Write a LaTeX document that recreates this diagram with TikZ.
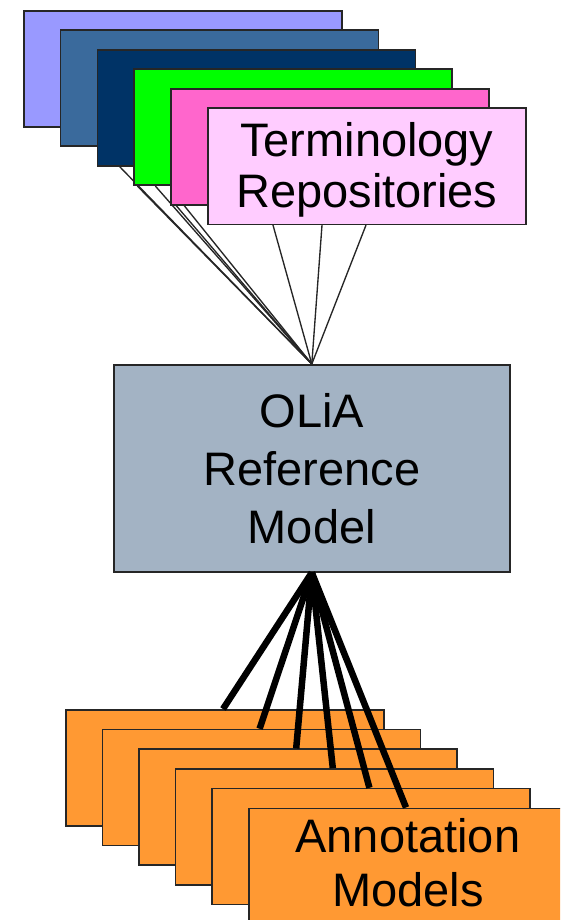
\documentclass[tikz,border=0pt]{standalone}
\usepackage{fontspec}
\setmainfont{Liberation Sans}
\pgfdeclarelayer{bg}
\pgfsetlayers{bg,main}
\definecolor{cA}{HTML}{9999FF}
\definecolor{cB}{HTML}{3A6A9C}
\definecolor{cC}{HTML}{003366}
\definecolor{cD}{HTML}{00FF00}
\definecolor{cE}{HTML}{FF66CC}
\definecolor{cF}{HTML}{FFCCFF}
\definecolor{oliafill}{HTML}{A3B3C4}
\definecolor{orng}{HTML}{FF9933}
\begin{document}
\begin{tikzpicture}[x=1pt,y=-1pt,
  box/.style={draw=black!85, line width=1.6pt, anchor=north west,
    minimum width=318pt, minimum height=116pt, inner sep=0pt,
    align=center, font=\fontsize{47}{51}\selectfont},
  fineline/.style={draw=black!85, line width=1.35pt},
  heavyline/.style={draw=black, line width=6.5pt}]
\useasboundingbox (0,0) rectangle (560,920);
\clip (0,0) rectangle (560,920);

% terminology repositories
\node[box, fill=cA] (t1) at (23,10) {};
\node[box, fill=cB] (t2) at (59.8,29.5) {};
\node[box, fill=cC] (t3) at (96.6,49) {};
\node[box, fill=cD] (t4) at (133.4,68.5) {};
\node[box, fill=cE] (t5) at (170.2,88) {};
\node[box, fill=cF] (t6) at (207,107.5) {\rule{0pt}{41pt}Terminology\\Repositories};

% reference model
\node[draw=black!85, line width=1.6pt, fill=oliafill, anchor=north west,
  minimum width=396pt, minimum height=207pt, inner sep=0pt, align=center,
  font=\fontsize{47}{58}\selectfont] (olia) at (113,364) {OLiA\\Reference\\Model};

% annotation models
\node[box, fill=orng] (b1) at (65,709) {};
\node[box, fill=orng] (b2) at (101.6,728.7) {};
\node[box, fill=orng] (b3) at (138.2,748.4) {};
\node[box, fill=orng] (b4) at (174.8,768.1) {};
\node[box, fill=orng] (b5) at (211.4,787.8) {};
\node[box, fill=orng, font=\fontsize{47}{53.5}\selectfont] (b6) at (248,807.5) {Annotation\\Models\rule[-8pt]{0pt}{0pt}};

% thin connectors to the repositories (behind the boxes)
\begin{pgfonlayer}{bg}
\draw[fineline] (olia.north) -- ([xshift=23pt]t3.south west);
\draw[fineline] (olia.north) -- ([xshift=4pt]t4.south west);
\draw[fineline] (olia.north) -- ([xshift=22pt]t4.south west);
\draw[fineline] (olia.north) -- ([xshift=6pt]t5.south west);
\draw[fineline] (olia.north) -- ([xshift=14pt]t5.south west);
\draw[fineline] (olia.north) -- ([xshift=66pt]t6.south west);
\draw[fineline] (olia.north) -- ([xshift=115pt]t6.south west);
\draw[fineline] (olia.north) -- ([xshift=159pt]t6.south west);
\end{pgfonlayer}

% heavy connectors to the annotation models
\draw[heavyline] (olia.south) -- ([xshift=158pt]b1.north west);
\draw[heavyline] (olia.south) -- ([xshift=158pt]b2.north west);
\draw[heavyline] (olia.south) -- ([xshift=158pt]b3.north west);
\draw[heavyline] (olia.south) -- ([xshift=158pt]b4.north west);
\draw[heavyline] (olia.south) -- ([xshift=158pt]b5.north west);
\draw[heavyline] (olia.south) -- ([xshift=158pt]b6.north west);
\end{tikzpicture}
\end{document}
